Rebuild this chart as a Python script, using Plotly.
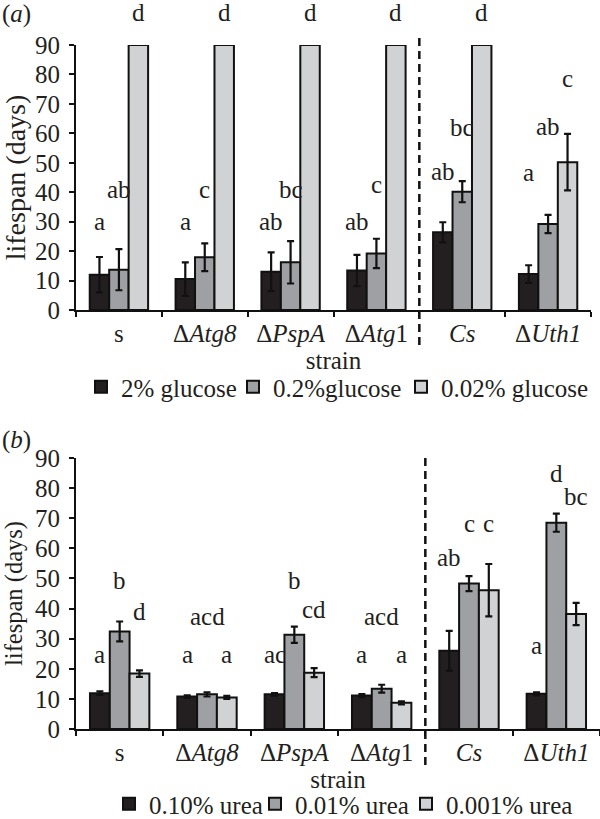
import plotly.graph_objects as go

# ---------------- data ----------------
strains = ["s", "Δ<i>Atg8</i>", "Δ<i>PspA</i>", "Δ<i>Atg</i>1", "<i>Cs</i>", "Δ<i>Uth1</i>"]

glucose_names = ["2% glucose", "0.2%glucose", "0.02% glucose"]
glucose_2 = [12.0, 10.5, 13.0, 13.4, 26.4, 12.2]
glucose_2_err = [6.0, 5.7, 6.6, 5.3, 3.4, 3.0]
glucose_02 = [13.7, 17.9, 16.2, 19.2, 40.2, 29.2]
glucose_02_err = [7.0, 4.7, 7.2, 5.0, 3.6, 3.1]
glucose_002 = [90, 90, 90, 90, 90, 50.2]
glucose_002_err = [None, None, None, None, None, 9.6]

urea_names = ["0.10% urea", "0.01% urea", "0.001% urea"]
urea_010 = [11.9, 10.8, 11.5, 11.1, 26.0, 11.7]
urea_010_err = [0.6, 0.4, 0.4, 0.5, 6.6, 0.5]
urea_001 = [32.4, 11.5, 31.3, 13.4, 48.3, 68.5]
urea_001_err = [3.3, 0.7, 2.7, 1.3, 2.5, 3.0]
urea_0001 = [18.4, 10.5, 18.7, 8.7, 46.1, 38.2]
urea_0001_err = [1.1, 0.5, 1.5, 0.5, 8.7, 3.7]

# significance letters (text) and the height (days) at which they are printed
gluc_letters = [["a", "a", "ab", "ab", "ab", "a"],
                ["ab", "c", "bc", "c", "bc", "ab"],
                ["d", "d", "d", "d", "d", "c"]]
gluc_letter_y = [[30, 30, 30, 30, 47, 46.6],
                 [41, 41, 41, 42.5, 62, 62.2],
                 [100.9, 100.9, 100.9, 100.9, 100.9, 78.6]]
urea_letters = [["a", "a", "ac", "a", "ab", "a"],
                ["b", "acd", "b", "acd", "c", "d"],
                ["d", "a", "cd", "a", "c", "bc"]]
urea_letter_y = [[24.6, 24.6, 24.6, 24.6, 57, 27.7],
                 [49.4, 37.4, 49.4, 37.4, 68.2, 85],
                 [39.1, 24.6, 39.7, 24.6, 68.2, 77.1]]

yticks = [0, 10, 20, 30, 40, 50, 60, 70, 80, 90]
YMAX = 90

# ---------------- style ----------------
FONT = "'Liberation Serif', 'Times New Roman', Times, serif"
TXT = "#231f20"
COLORS = ["#231f20", "#9fa0a3", "#d1d2d4"]
FS = 25
W, H = 600, 819
BARGAP = 0.32


def py(pixel_y):
    return (H - pixel_y) / H


fig = go.Figure()

gluc_series = [(glucose_2, glucose_2_err), (glucose_02, glucose_02_err), (glucose_002, glucose_002_err)]
urea_series = [(urea_010, urea_010_err), (urea_001, urea_001_err), (urea_0001, urea_0001_err)]

legend_ids_a = ["legend", "legend2", "legend3"]
legend_ids_b = ["legend4", "legend5", "legend6"]

for i, (vals, errs) in enumerate(gluc_series):
    fig.add_trace(go.Bar(
        x=strains, y=vals, name=glucose_names[i], xaxis="x", yaxis="y",
        marker=dict(color=COLORS[i], line=dict(color="#111111", width=2)),
        error_y=dict(type="data", array=errs, visible=True, color="#111111", thickness=2.2, width=3.5),
        legend=legend_ids_a[i],
    ))
for i, (vals, errs) in enumerate(urea_series):
    fig.add_trace(go.Bar(
        x=strains, y=vals, name=urea_names[i], xaxis="x2", yaxis="y2",
        marker=dict(color=COLORS[i], line=dict(color="#111111", width=2)),
        error_y=dict(type="data", array=errs, visible=True, color="#111111", thickness=2.2, width=3.5),
        legend=legend_ids_b[i],
    ))

bw = (1 - BARGAP) / 3
offsets = [-bw, 0, bw]
annotations = []
for letters, heights, xr, yr in [(gluc_letters, gluc_letter_y, "x", "y domain"),
                                  (urea_letters, urea_letter_y, "x2", "y2 domain")]:
    for s in range(3):
        for c in range(len(strains)):
            annotations.append(dict(
                x=c + offsets[s], y=heights[s][c] / YMAX, xref=xr, yref=yr,
                text=letters[s][c], showarrow=False, xanchor="center", yanchor="middle",
                font=dict(family=FONT, size=FS, color=TXT)))

annotations.append(dict(x=0.0, y=py(14), xref="paper", yref="paper", text="(<i>a</i>)",
                        showarrow=False, xanchor="left", yanchor="middle",
                        font=dict(family=FONT, size=FS, color=TXT)))
annotations.append(dict(x=0.0, y=py(440), xref="paper", yref="paper", text="(<i>b</i>)",
                        showarrow=False, xanchor="left", yanchor="middle",
                        font=dict(family=FONT, size=FS, color=TXT)))

shapes = [
    dict(type="line", xref="x", yref="paper", x0=3.5, x1=3.5, y0=py(345), y1=py(36),
         line=dict(color="#111111", width=2.5, dash="8px,5px")),
    dict(type="line", xref="x2", yref="paper", x0=3.5, x1=3.5, y0=py(765), y1=py(455),
         line=dict(color="#111111", width=2.5, dash="8px,5px")),
]

common_x = dict(type="category", showline=True, linecolor="#111111", linewidth=2,
                ticks="outside", tickson="boundaries", ticklen=5, tickwidth=2, tickcolor="#111111",
                tickfont=dict(family=FONT, size=FS, color=TXT), showgrid=False, zeroline=False,
                automargin=False,
                title=dict(text="strain", font=dict(family=FONT, size=FS, color=TXT), standoff=0))
common_y = dict(range=[0, YMAX], tickvals=yticks, showline=True, linecolor="#111111", linewidth=2,
                ticks="outside", ticklen=5, tickwidth=2, tickcolor="#111111",
                tickfont=dict(family=FONT, size=FS, color=TXT), showgrid=False, zeroline=False,
                automargin=False, ticklabelstandoff=4)


def legend_at(x_px, y_px):
    return dict(orientation="h", xanchor="left", yanchor="middle", x=x_px / W, y=py(y_px),
                font=dict(family=FONT, size=FS, color=TXT), bgcolor="rgba(0,0,0,0)",
                itemwidth=30, borderwidth=0)


fig.update_layout(
    width=W, height=H,
    margin=dict(l=0, r=0, t=0, b=0, autoexpand=False),
    paper_bgcolor="white", plot_bgcolor="white",
    font=dict(family=FONT, color=TXT),
    barmode="group", bargap=BARGAP, bargroupgap=0,
    xaxis=dict(domain=[76 / W, 591 / W], anchor="y", **common_x),
    yaxis=dict(domain=[py(310), py(45)], anchor="x",
               title=dict(text="lifespan (days)", font=dict(family=FONT, size=28, color=TXT), standoff=8),
               **common_y),
    xaxis2=dict(domain=[76 / W, 600 / W], anchor="y2", **common_x),
    yaxis2=dict(domain=[py(729), py(458)], anchor="x2",
                title=dict(text="lifespan (days)", font=dict(family=FONT, size=24.5, color=TXT), standoff=9),
                **common_y),
    legend=legend_at(81, 387),
    legend2=legend_at(233, 387),
    legend3=legend_at(401, 387),
    legend4=legend_at(109, 804),
    legend5=legend_at(255, 804),
    legend6=legend_at(406, 804),
    annotations=annotations,
    shapes=shapes,
    showlegend=True,
)

fig.write_html("out.html", config={"displayModeBar": False},
               post_script="document.body.style.margin='0';document.body.style.padding='0';")
